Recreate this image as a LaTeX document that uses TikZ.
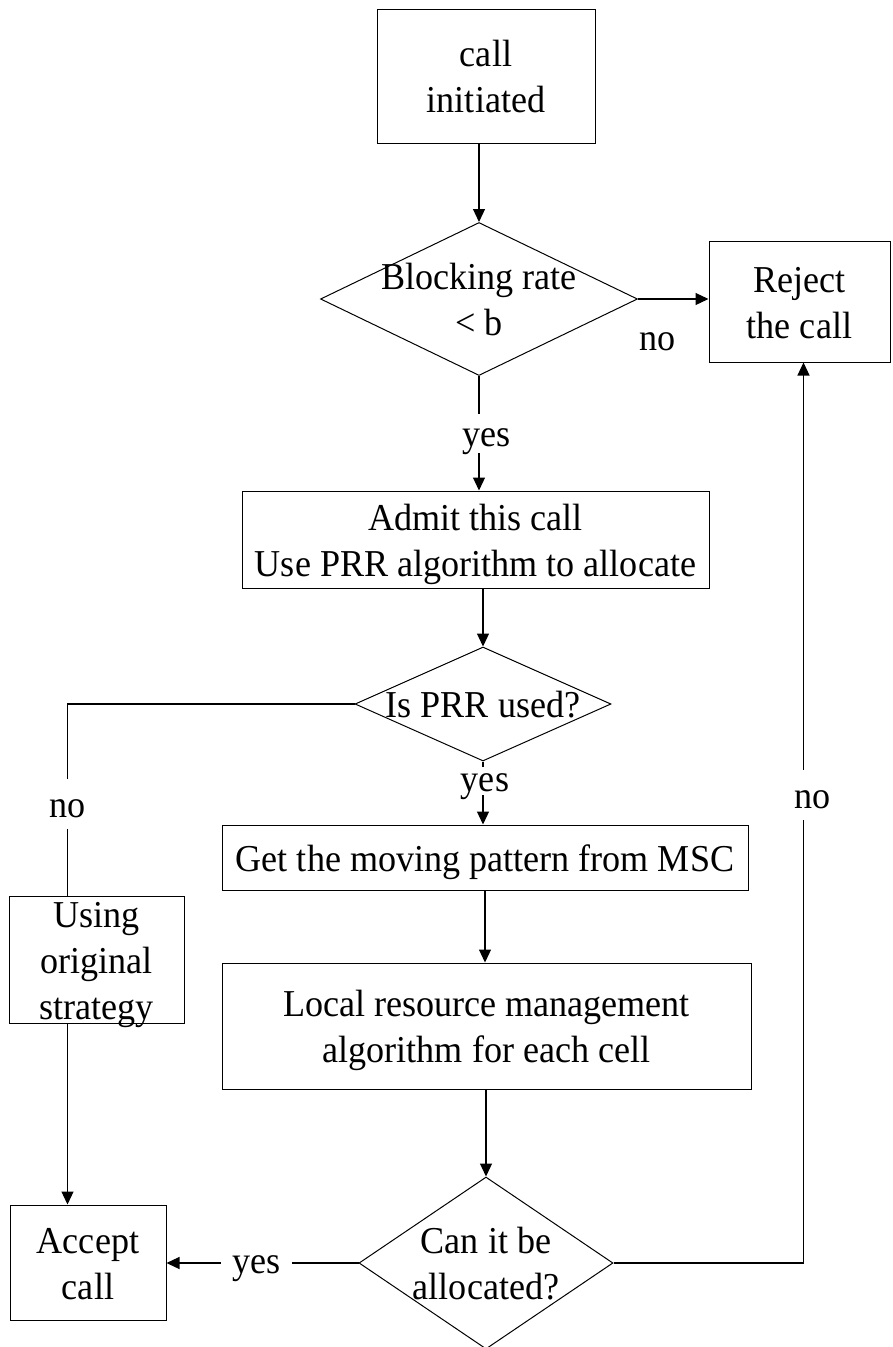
\documentclass[tikz,border=0pt]{standalone}
\usepackage{fontspec}
\setmainfont[FakeStretch=0.95]{Liberation Serif}
\usetikzlibrary{shapes.geometric,arrows.meta}
\newcommand\bs{\rule[-9.5pt]{0pt}{46pt}}
\begin{document}
\begin{tikzpicture}[x=1pt,y=-1pt,
  every node/.style={font=\fontsize{38}{46}\selectfont},
  box/.style={draw, line width=1pt, inner sep=0pt, align=center},
  dia/.style={draw, diamond, line width=1pt, inner sep=0pt},
  txt/.style={inner sep=0pt, align=center},
  lbl/.style={inner sep=0pt, anchor=base, fill=white},
  conn/.style={line width=1.2pt},
  arr/.style={conn, -{Triangle[length=13pt,width=12pt]}}]

\useasboundingbox (0,0) rectangle (892,1347);

% nodes
\node[box, minimum width=218pt, minimum height=134pt] (init) at (486,76) {\bs call\\\bs initiated};
\node[dia, minimum width=317pt, minimum height=153pt] (d1) at (479,299) {};
\node[txt] (d1t) at (d1) {\bs Blocking rate\\\bs < b};
\node[box, minimum width=181pt, minimum height=121pt] (reject) at (799.5,301.5) {\bs Reject\\\bs the call};
\node[box, minimum width=467pt, minimum height=97pt] (admit) at (475.5,539.5) {\bs Admit this call\\\bs Use PRR algorithm to allocate};
\node[dia, minimum width=256pt, minimum height=114pt] (d2) at (483,704) {};
\node[txt] (d2t) at (d2) {\bs Is PRR used?};
\node[box, minimum width=526pt, minimum height=65pt] (get) at (485,857.5) {\bs Get the moving pattern from MSC};
\node[box, minimum width=529pt, minimum height=126pt] (local) at (486.5,1026) {\bs Local resource management\\\bs algorithm for each cell};
\node[box, minimum width=175pt, minimum height=127pt] (using) at (96.5,959.5) {};
\node[txt] (usingt) at (using) {\bs Using\\\bs original\\\bs strategy};
\node[dia, minimum width=254pt, minimum height=172pt] (d3) at (486,1263) {};
\node[txt] (d3t) at (d3) {\bs Can it be\\\bs allocated?};
\node[box, minimum width=156pt, minimum height=115pt] (accept) at (88,1262.5) {\bs Accept\\\bs call};

\path (d2.west) ++(-287,0) coordinate (c1);
\path (d3.east) ++(190,0) coordinate (c2);

% connectors
\draw[arr] (d1.north |- init.south) -- (d1.north);
\draw[arr] (d1.east) -- (d1.east -| reject.west);
\draw[arr] (d1.south) -- (d1.south |- admit.north);
\draw[arr] (d2.north |- admit.south) -- (d2.north);
\draw[conn] (d2.west) -- (c1) -- (c1 |- using.north);
\draw[arr] (c1 |- using.south) -- (c1 |- accept.north);
\draw[arr] (d2.south) -- (d2.south |- get.north);
\draw[arr] (get.south) -- (get.south |- local.north);
\draw[arr] (d3.north |- local.south) -- (d3.north);
\draw[arr] (d3.west) -- (d3.west -| accept.east);
\draw[arr] (d3.east) -- (c2) -- (c2 |- reject.south);

% labels
\node[lbl, text height=32pt, text depth=7pt] (yes1) at (486.5,446) {yes};
\node[lbl, text height=24pt, text depth=4pt] (yes2) at (485,791) {yes};
\node[lbl, text height=38pt, text depth=12pt] (no1) at (67.5,817) {no};
\node[lbl, text height=38pt, text depth=12pt] (no2) at (812.5,808) {no};
\node[inner sep=0pt, anchor=base] (no3) at (657.5,350) {no};
\node[lbl, inner xsep=11pt, text height=20pt, text depth=6pt] (yes3) at (256.5,1273) {yes};
\end{tikzpicture}
\end{document}
